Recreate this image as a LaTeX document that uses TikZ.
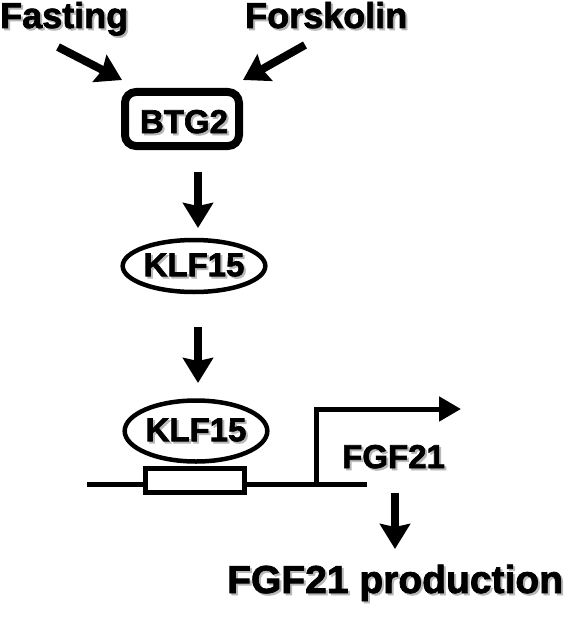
\documentclass[tikz,border=0pt]{standalone}
\usepackage{fontspec}
\setmainfont{Liberation Sans}[BoldFeatures={FakeBold=2}]
\usetikzlibrary{arrows.meta,shapes.geometric}
\newcommand\shadowtxt[1]{\makebox[0pt][l]{\hspace{2pt}\raisebox{-2pt}{\textcolor{black!28}{#1}}}#1}
\tikzset{
  lbl/.style={inner sep=0pt, font=\bfseries\fontsize{#1}{#1}\selectfont, text=black},
  bigarrow/.style={line width=8pt, -{Stealth[length=25pt,width=30pt,inset=3pt]}},
  promarrow/.style={line width=5pt, -{Triangle[length=22pt,width=24pt]}},
  prot/.style={ellipse, draw, line width=4.5pt, inner sep=0pt},
}
\begin{document}
\begin{tikzpicture}[x=1pt,y=-1pt]
\useasboundingbox (0,0) rectangle (564,623);
% top labels
\node[lbl=36, anchor=base west] (fasting) at (0,28) {\shadowtxt{Fasting}};
\node[lbl=36, anchor=base west] (forsk) at (245,28) {\shadowtxt{Forskolin}};
% BTG2 box
\node[draw, line width=8pt, rounded corners=11pt, minimum width=114pt, minimum height=54pt, inner sep=0pt] (btg) at (182,119) {};
\node[lbl=33, anchor=base] (btgtxt) at (184,133) {\shadowtxt{BTG2}};
% arrows to BTG2
\coordinate (fa1) at (58,47);
\coordinate (fa2) at (122,80);
\coordinate (fo1) at (305,45);
\coordinate (fo2) at (243,80);
\draw[bigarrow] (fa1) -- (fa2);
\draw[bigarrow] (fo1) -- (fo2);
% KLF15 (1)
\node[prot, minimum width=142pt, minimum height=52pt, lbl=33, draw, line width=4.5pt] (klf1) at (194,266) {\shadowtxt{KLF15}};
\coordinate (a1s) at (198,172);
\coordinate (a1e) at (198,228);
\draw[bigarrow] (a1s) -- (a1e);
% KLF15 (2)
\node[prot, minimum width=142pt, minimum height=61pt, lbl=33, draw, line width=4.5pt] (klf2) at (196,431) {\shadowtxt{KLF15}};
\coordinate (a2s) at (198,327);
\coordinate (a2e) at (198,383);
\draw[bigarrow] (a2s) -- (a2e);
% DNA
\coordinate (dnaL) at (87,484);
\coordinate (dnaR) at (367,484);
\draw[line width=5pt] (dnaL) -- (dnaR);
\node[draw, fill=white, line width=5pt, minimum width=99pt, minimum height=24pt, inner sep=0pt] (site) at (195,480.5) {};
% promoter arrow
\coordinate (p0) at (316.5,484);
\coordinate (p1) at (316.5,409);
\coordinate (p2) at (461,409);
\draw[promarrow] (p0) -- (p1) -- (p2);
\node[lbl=33, anchor=base west] (fgf) at (342,468) {\shadowtxt{FGF21}};
% output
\node[lbl=39, anchor=base west] (prod) at (227,593) {\shadowtxt{FGF21 production}};
\coordinate (a3s) at (395,493);
\coordinate (a3e) at (395,549);
\draw[bigarrow] (a3s) -- (a3e);
\end{tikzpicture}
\end{document}
